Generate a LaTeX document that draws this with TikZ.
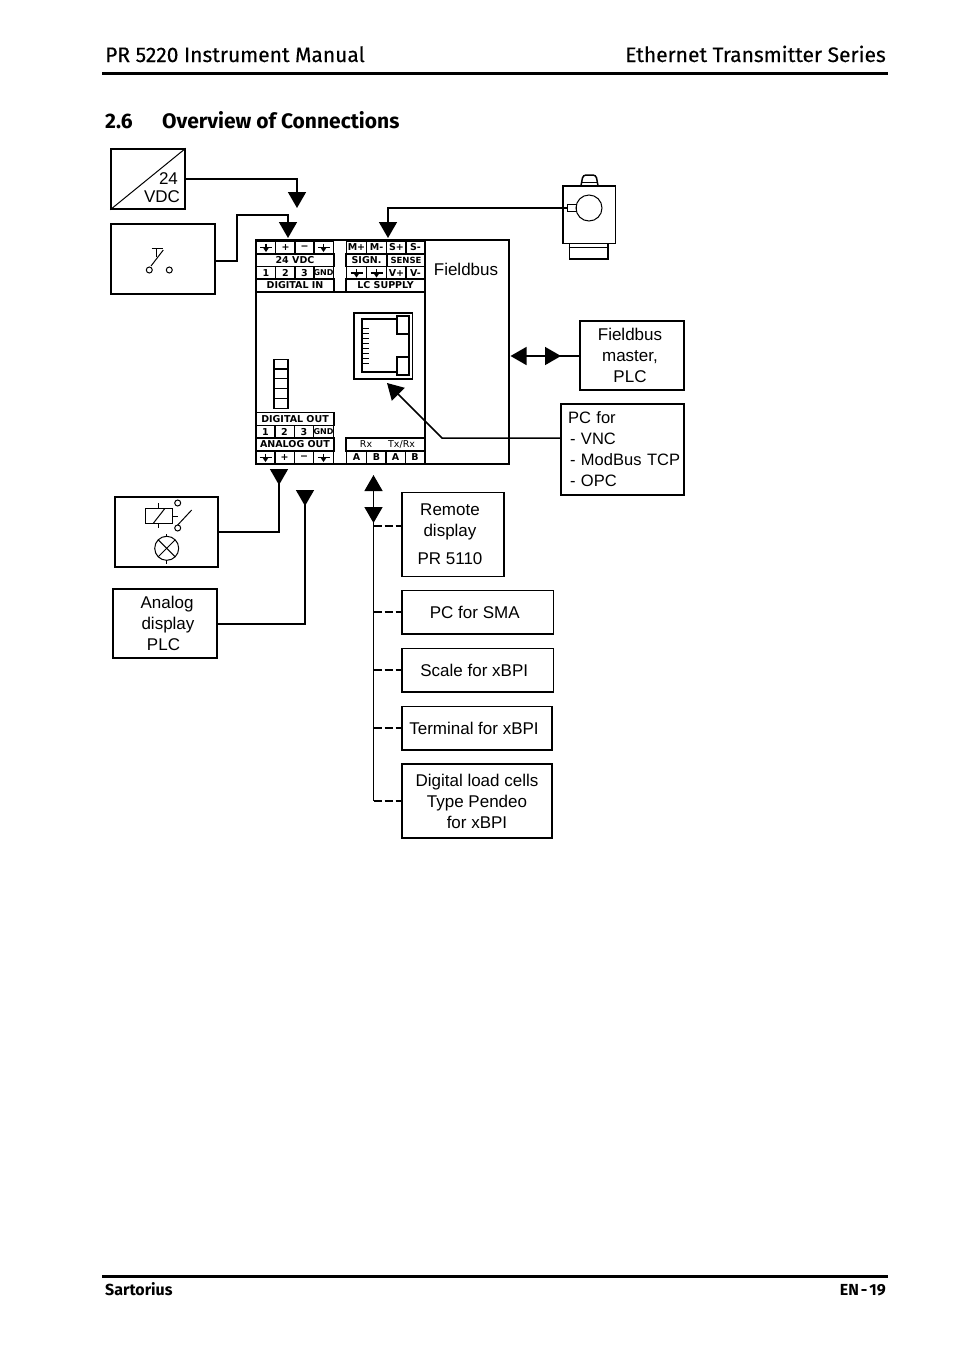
\documentclass[tikz,border=0pt]{standalone}
\usepackage{fontspec}
\setmainfont{Fira Sans}
\newfontfamily\headfont{Fira Sans}[FakeBold=0.25]
\newfontfamily\diagfont{Liberation Sans}
\newfontfamily\termfont{DejaVu Sans}
\usetikzlibrary{arrows.meta}
\tikzset{
  box/.style={draw, line width=1.5pt, inner sep=0pt, align=center, font=\diagfont\fontsize{17}{21}\selectfont},
  lbl/.style={inner sep=0pt, align=center, font=\diagfont\fontsize{17}{21}\selectfont},
  cell/.style={draw, line width=1.2pt, inner sep=0pt, minimum width=19.5pt, minimum height=13pt, font=\termfont\bfseries\fontsize{9.5}{10}\selectfont},
  wide/.style={cell, minimum width=78pt},
  sym/.style={line width=1pt},
  wire/.style={line width=1.5pt},
  bigtip/.style={wire, -{Triangle[width=18pt,length=16pt]}},
  backtip/.style={wire, -{Triangle[width=18pt,length=16pt,reversed]}},
  branch/.style={line width=1.4pt, dash pattern=on 8pt off 3pt},
  head/.style={anchor=base west, inner sep=0pt, font=\headfont\fontsize{21}{25}\selectfont},
  sect/.style={head, font=\bfseries\fontsize{21}{25}\selectfont},
  foot/.style={anchor=base west, inner sep=0pt, font=\bfseries\fontsize{16}{20}\selectfont},
  rulebar/.style={line width=3pt},
  gnd/.pic={
    \draw[line width=1.4pt] (-6,0) -- (6,0);
    \draw[line width=1.2pt] (0,-4) -- (0,0);
    \fill (-3,0) -- (3,0) -- (0,4.5) -- cycle;
  }
}
\begin{document}
\begin{tikzpicture}[x=1pt,y=-1pt]
  \useasboundingbox (0,0) rectangle (954,1350);

  % page header and footer
  \node[head] (title) at (105,62) {PR 5220 Instrument Manual};
  \node[head, anchor=base east] (series) at (886,62) {Ethernet Transmitter Series};
  \coordinate (hl) at (102,73);
  \coordinate (hr) at (888,73);
  \draw[rulebar] (hl) -- (hr);
  \node[sect] (secno) at (105,128) {2.6};
  \node[sect] (sectitle) at (162,128) {Overview of Connections};
  \coordinate (fl) at (102,1276);
  \coordinate (fr) at (888,1276);
  \draw[rulebar] (fl) -- (fr);
  \node[foot] (maker) at (105,1295) {Sartorius};
  \node[foot, anchor=base east] (pageno) at (886,1295) {EN\kern2pt-\kern2pt19};

  % main unit
  \node[box, minimum width=253pt, minimum height=224pt] (unit) at (382.5,352) {};
  \draw[wire] (425,240) -- (425,464);
  \node[lbl] (fbus) at (466,269) {Fieldbus};

  % terminals top left
  \node[cell] (a1) at (266,247.5) {};
  \node[cell] (a2) at (285.5,247.5) {+};
  \node[cell] (a3) at (304.5,247.5) {−};
  \node[cell] (a4) at (323.5,247.5) {};
  \node[wide] (a5) at (295,260) {24 VDC};
  \node[cell] (a6) at (266,273) {1};
  \node[cell] (a7) at (285.5,273) {2};
  \node[cell] (a8) at (304.5,273) {3};
  \node[cell, font=\termfont\bfseries\fontsize{8}{9}\selectfont] (a9) at (323.5,273) {GND};
  \node[wide] (a10) at (295,285.5) {DIGITAL IN};
  \pic at (a1) {gnd};
  \pic at (a4) {gnd};

  % terminals top right
  \node[cell] (b1) at (356.5,247.5) {M+};
  \node[cell] (b2) at (376.5,247.5) {M-};
  \node[cell] (b3) at (396.5,247.5) {S+};
  \node[cell] (b4) at (415.5,247.5) {S-};
  \node[cell, minimum width=41pt] (b5) at (366.5,260) {SIGN.};
  \node[cell, minimum width=38pt, font=\termfont\bfseries\fontsize{8.5}{10}\selectfont] (b6) at (406,260) {SENSE};
  \node[cell] (b7) at (356.5,273) {};
  \node[cell] (b8) at (376.5,273) {};
  \node[cell] (b9) at (396.5,273) {V+};
  \node[cell] (b10) at (415.5,273) {V-};
  \node[wide, minimum width=79pt] (b11) at (385.5,285.5) {LC SUPPLY};
  \pic at (b7) {gnd};
  \pic at (b8) {gnd};
  \draw[wire] (256,292) -- (425,292);

  % terminals bottom left
  \node[wide] (c1) at (295,419) {DIGITAL OUT};
  \node[cell] (c2) at (265.5,432) {1};
  \node[cell] (c3) at (284.5,432) {2};
  \node[cell] (c4) at (304,432) {3};
  \node[cell, font=\termfont\bfseries\fontsize{8}{9}\selectfont] (c5) at (323.5,432) {GND};
  \node[wide] (c6) at (295,444.5) {ANALOG OUT};
  \node[cell] (c7) at (265.5,457.5) {};
  \node[cell] (c8) at (284.5,457.5) {+};
  \node[cell] (c9) at (304,457.5) {−};
  \node[cell] (c10) at (323.5,457.5) {};
  \pic at (c7) {gnd};
  \pic at (c10) {gnd};

  % terminals bottom right
  \node[wide, minimum width=79pt, font=\termfont\fontsize{9.5}{10}\selectfont] (d1) at (385.5,444.5) {\hspace*{4pt}Rx\hspace{16pt}Tx/Rx};
  \node[cell] (d2) at (356.5,457.5) {A};
  \node[cell] (d3) at (376.5,457.5) {B};
  \node[cell] (d4) at (395.5,457.5) {A};
  \node[cell] (d5) at (415,457.5) {B};

  % led stack
  \node[cell, minimum width=14pt, minimum height=9.8pt] (l1) at (281,364) {};
  \node[cell, minimum width=14pt, minimum height=9.8pt] (l2) at (281,373.8) {};
  \node[cell, minimum width=14pt, minimum height=9.8pt] (l3) at (281,383.6) {};
  \node[cell, minimum width=14pt, minimum height=9.8pt] (l4) at (281,393.4) {};
  \node[cell, minimum width=14pt, minimum height=9.8pt] (l5) at (281,403.2) {};

  % network socket
  \draw[wire] (354,313) rectangle (412.5,379);
  \draw[wire] (362,319) rectangle (409,372);
  \draw[wire, fill=white] (397,316) rectangle (409,334);
  \draw[wire, fill=white] (397,357) rectangle (409,375);
  \draw[sym] (362.5,328) -- (369,328);
  \draw[sym] (362.5,333) -- (369,333);
  \draw[sym] (362.5,338) -- (369,338);
  \draw[sym] (362.5,343) -- (369,343);
  \draw[sym] (362.5,348) -- (369,348);
  \draw[sym] (362.5,353) -- (369,353);
  \draw[sym] (362.5,358) -- (369,358);
  \draw[sym] (362.5,363) -- (369,363);

  % supply
  \node[box, minimum width=74pt, minimum height=60pt] (psu) at (148,179) {};
  \draw[sym] (psu.south west) -- (psu.north east);
  \node[lbl, align=right, font=\diagfont\fontsize{17}{18}\selectfont] (psutext) at (162,188) {24\hspace*{2pt}\\VDC};
  \coordinate (psutip) at (297,208);
  \draw[bigtip] (psu.east) -| (psutip);

  % digital input
  \node[box, minimum width=104pt, minimum height=70pt] (switch) at (163,259) {};
  \draw[sym] (149.3,270) circle (3);
  \draw[sym] (169.3,270) circle (3);
  \draw[sym] (151,266) -- (163.3,250);
  \draw[sym] (151.7,248) -- (162.7,248);
  \draw[sym] (156.7,248) -- (156.7,257);
  \coordinate (swstart) at (215,261);
  \coordinate (swbend) at (237,215);
  \coordinate (swtip) at (288,238);
  \draw[bigtip] (swstart) -| (swbend) -| (swtip);

  % load cell
  \node[box, minimum width=52.5pt, minimum height=57.5pt] (lcell) at (589,214.5) {};
  \node[box, minimum width=38.5pt, minimum height=15.5pt, fill=white] (lcellfoot) at (588.5,251) {};
  \draw[sym] (lcellfoot.west |- 0,247) -- (lcellfoot.east |- 0,247);
  \draw[sym] (589,208) circle (13);
  \node[box, line width=1pt, minimum width=8.5pt, minimum height=7pt] (lcellport) at (572,208) {};
  \draw[wire, rounded corners=3pt] (581,185.7) -- (583,175) -- (596,175) -- (598,185.7);
  \draw[sym] (581,182) -- (598,182);
  \coordinate (lcelltip) at (388,238);
  \draw[bigtip] (lcellport.west) -| (lcelltip);

  % fieldbus master
  \node[box, minimum width=104pt, minimum height=69pt] (master) at (632,355.5) {\hspace*{-4pt}Fieldbus\\\hspace*{-4pt}master,\\\hspace*{-4pt}PLC};
  \coordinate (mastip) at (510.5,356);
  \coordinate (mastart) at (580,356);
  \coordinate (rtbase) at (544.5,356);
  \coordinate (rttip) at (561,356);
  \draw[bigtip] (mastart) -- (mastip);
  \draw[bigtip] (rtbase) -- (rttip);

  % pc for vnc
  \node[box, minimum width=123pt, minimum height=91pt, text width=117pt, align=left, font=\diagfont\fontsize{16.5}{21}\selectfont] (pcvnc) at (622.5,449.5) {\hspace*{4pt}PC for\\\hspace*{6pt}- VNC\\\hspace*{6pt}- ModBus TCP\\\hspace*{6pt}- OPC};
  \coordinate (pcbend) at (442,438);
  \coordinate (pcstart) at (561,438);
  \coordinate (pctip) at (387,383);
  \draw[bigtip] (pcstart) -- (pcbend) -- (pctip);

  % relay and lamp
  \node[box, minimum width=103pt, minimum height=70pt] (relay) at (166.5,532) {};
  \draw[sym] (145,508.3) rectangle (172.7,523.3);
  \draw[sym] (153.3,523.3) -- (165,508.3);
  \draw[sym] (158.3,503) -- (158.3,508.3);
  \draw[sym] (158.3,523.3) -- (158.3,528);
  \draw[sym] (172.7,516.7) -- (178,516.7);
  \draw[sym] (177.7,503) circle (3);
  \draw[sym] (177.7,528) circle (3);
  \draw[sym] (177.7,525) -- (191.7,510);
  \draw[sym] (166.7,548.3) circle (12);
  \draw[sym] (158.2,539.8) -- (175.2,556.8);
  \draw[sym] (158.2,556.8) -- (175.2,539.8);
  \draw[sym] (166.7,534) -- (166.7,536.3);
  \draw[sym] (166.7,560.3) -- (166.7,564);
  \coordinate (relaytop) at (279,469);
  \draw[backtip] (relay.east) -| (relaytop);

  % analog output
  \node[box, minimum width=104pt, minimum height=69pt] (analog) at (165,623.5) {\hspace*{4pt}Analog\\\hspace*{6pt}display\\\hspace*{-3pt}PLC};
  \coordinate (analogstart) at (217,624);
  \coordinate (analogtop) at (305,490);
  \draw[backtip] (analogstart) -| (analogtop);

  % serial bus
  \node[box, minimum width=102pt, minimum height=84pt] (remote) at (453,534.5) {\hspace*{-6pt}Remote\\\hspace*{-6pt}display\\[7pt]\hspace*{-6pt}PR 5110};
  \node[box, minimum width=151.5pt, minimum height=43.5pt] (sma) at (477.75,612) {\hspace*{-6pt}PC for SMA};
  \node[box, minimum width=151.5pt, minimum height=43.5pt] (scale) at (477.75,670) {\hspace*{-7pt}Scale for xBPI};
  \node[box, minimum width=150pt, minimum height=43.5pt] (term) at (477,728) {\hspace*{-6pt}Terminal for xBPI};
  \node[box, minimum width=150pt, minimum height=74pt] (dlc) at (477,801) {Digital load cells\\Type Pendeo\\for xBPI};
  \coordinate (bustop) at (373.5,475);
  \coordinate (busdn) at (373.5,523);
  \coordinate (busdnbase) at (373.5,507);
  \coordinate (busbot) at (373.5,801);
  \coordinate (remotedash) at (373.5,526);
  \draw[bigtip] (busdn) -- (bustop);
  \draw[backtip] (busdn) -- (busdnbase);
  \draw[wire] (busdn) -- (busbot);
  \draw[branch] (remotedash) -- (remotedash -| remote.west);
  \draw[branch] (busbot |- sma.west) -- (sma.west);
  \draw[branch] (busbot |- scale.west) -- (scale.west);
  \draw[branch] (busbot |- term.west) -- (term.west);
  \draw[branch] (busbot) -- (dlc.west);
\end{tikzpicture}
\end{document}
